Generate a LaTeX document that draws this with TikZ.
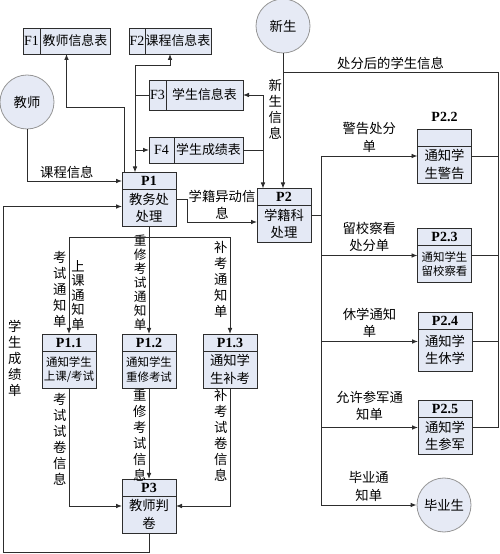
\documentclass[tikz,border=0pt]{standalone}
\usepackage{fontspec}
\setmainfont{Liberation Serif}
\newfontfamily\cjk{Noto Sans CJK SC}
\usetikzlibrary{arrows.meta,positioning,calc}

\definecolor{boxfill}{RGB}{228,233,245}
\definecolor{cirfill}{RGB}{230,234,245}
\definecolor{cirline}{RGB}{150,150,150}
\definecolor{ln}{RGB}{45,45,45}

\tikzset{
  wire/.style={draw=ln, line width=0.7pt},
  datafl/.style={wire, -{Latex[length=4.5pt,width=3.5pt]}},
  datafl2/.style={wire, {Latex[length=4.5pt,width=3.5pt]}-{Latex[length=4.5pt,width=3.5pt]}},
  entity/.style={circle, draw=cirline, fill=cirfill, line width=0.6pt, minimum size=40.5pt, inner sep=0pt, font=\cjk\fontsize{10}{12}\selectfont},
  fid/.style={draw=ln, fill=boxfill, line width=0.6pt, inner sep=0pt, outer sep=0pt, minimum height=19.5pt, font=\fontsize{10.5}{12}\selectfont},
  fname/.style={fid, font=\cjk\fontsize{9.7}{12}\selectfont},
  proc/.style={draw=ln, fill=boxfill, line width=0.6pt, inner sep=0pt, outer sep=0pt, minimum width=40.5pt, minimum height=40.5pt,
    path picture={\draw[ln, line width=0.6pt] ([yshift=-12.75pt]path picture bounding box.north west) -- ([yshift=-12.75pt]path picture bounding box.north east);}},
  pnum/.style={inner sep=0pt, font=\bfseries\fontsize{10.5}{12}\selectfont},
  ptext/.style={align=center, inner sep=0pt, font=\cjk\fontsize{10}{13}\selectfont},
  psmall/.style={ptext, font=\cjk\fontsize{8.6}{11}\selectfont},
  lab/.style={align=center, inner sep=1.5pt, font=\cjk\fontsize{10}{13}\selectfont},
  vlab/.style={align=center, inner sep=1.5pt, font=\cjk\fontsize{10}{12}\selectfont},
}

\begin{document}
\begin{tikzpicture}[x=0.75pt,y=0.75pt]
\useasboundingbox (0,0) rectangle (500,554);

%Shape: Circle (external entities)
\node[entity] (teacher) at (27,452) {教师};
\node[entity] (newstu) at (283,528) {新生};
\node[entity] (grad) at (444,49) {毕业生};

%Shape: data stores
\node[fid, minimum width=12.75pt] (f1id) at (31.5,513) {F1};
\node[fname, minimum width=52.5pt, right=0pt of f1id] (f1) {教师信息表};
\node[fid, minimum width=12pt] (f2id) at (137,513) {F2};
\node[fname, minimum width=49.5pt, right=0pt of f2id] (f2) {课程信息表};
\node[fid, minimum width=12.75pt, minimum height=22.5pt] (f3id) at (157.5,459) {F3};
\node[fname, minimum width=57.75pt, minimum height=22.5pt, right=0pt of f3id] (f3) {学生信息表};
\node[fid, minimum width=18.75pt] (f4id) at (161.5,404) {F4};
\node[fname, minimum width=51.75pt, right=0pt of f4id] (f4) {学生成绩表};

%Shape: processes
\node[proc] (p1) at (149,354.5) {};
\node[pnum] (p1n) at ([yshift=-6.375pt]p1.north) {P1};
\node[ptext] (p1t) at ([yshift=-6.375pt]p1.center) {教务处\\处理};

\node[proc] (p2) at (284,338.5) {};
\node[pnum] (p2n) at ([yshift=-6.375pt]p2.north) {P2};
\node[ptext] (p2t) at ([yshift=-6.375pt]p2.center) {学籍科\\处理};

\node[proc] (p11) at (69,193) {};
\node[pnum] (p11n) at ([yshift=-6.375pt]p11.north) {P1.1};
\node[psmall] (p11t) at ([yshift=-6.375pt]p11.center) {通知学生\\上课/考试};

\node[proc] (p12) at (149,193) {};
\node[pnum] (p12n) at ([yshift=-6.375pt]p12.north) {P1.2};
\node[psmall] (p12t) at ([yshift=-6.375pt]p12.center) {通知学生\\重修考试};

\node[proc] (p13) at (230,193) {};
\node[pnum] (p13n) at ([yshift=-6.375pt]p13.north) {P1.3};
\node[ptext] (p13t) at ([yshift=-6.375pt]p13.center) {通知学\\生补考};

\node[proc] (p3) at (149,48) {};
\node[pnum] (p3n) at ([yshift=-6.375pt]p3.north) {P3};
\node[ptext] (p3t) at ([yshift=-6.375pt]p3.center) {教师判\\卷};

\node[proc] (p22) at (444.5,398) {};
\node[pnum, above=5pt of p22] (p22n) {P2.2};
\node[ptext] (p22t) at ([yshift=-6.375pt]p22.center) {通知学\\生警告};

\node[proc] (p23) at (444.5,298.5) {};
\node[pnum] (p23n) at ([yshift=-6.375pt]p23.north) {P2.3};
\node[psmall] (p23t) at ([yshift=-6.375pt]p23.center) {通知学生\\留校察看};

\node[proc, minimum height=44.25pt] (p24) at (445,212.5) {};
\node[pnum] (p24n) at ([yshift=-6.375pt]p24.north) {P2.4};
\node[ptext] (p24t) at ([yshift=-6.375pt]p24.center) {通知学\\生休学};

\node[proc] (p25) at (445,126.5) {};
\node[pnum] (p25n) at ([yshift=-6.375pt]p25.north) {P2.5};
\node[ptext] (p25t) at ([yshift=-6.375pt]p25.center) {通知学\\生参军};

%Bend points
\coordinate (f1b) at ($(f1id.south west)!0.5!(f1.south east)$);
\coordinate (f2b) at ($(f2id.south west)!0.5!(f2.south east)$);
\coordinate (busL) at ([xshift=9.75pt]p1.north west);
\coordinate (busR) at ([xshift=4.5pt]p2.north west);
\coordinate (rtop) at (498,482);
\coordinate (lcorner) at (3,2);
\coordinate (split) at ([yshift=-8.25pt]p1.south);
\coordinate (trk) at ([xshift=7.5pt]p2.east);

%Flows round P1
\draw[datafl] (teacher) |- node[lab, pos=0.71, above] {课程信息} (p1.west |- p1n);
\draw[datafl] ([xshift=1.5pt]p1.north west) |- ([yshift=-39.75pt]f1b) -- (f1b);
\draw[datafl2] (f2b) -- ++(0,-11) -| (busL);
\draw[wire] (f3id.west) -- (f3id.west -| busL);
\draw[datafl] (f4id.west -| busL) -- (f4id.west);
\draw[datafl] (p3.south) |- (lcorner) |- node[vlab, pos=0.28, right=2pt] {学\\生\\成\\绩\\单} ([yshift=-5.25pt]p1.west);
\draw[datafl] (p1.east) -- ++(11,0) |- node[lab, pos=0.75, above] {学籍异动信\\息} ([yshift=-4.875pt]p2.west);

%Flows round P2
\draw[datafl2] (f3.east) -| (busR);
\draw[wire] (f4.east) -- (f4.east -| busR);
\draw[datafl] (newstu) -- node[vlab, pos=0.41, left=-1pt] {新\\生\\信\\息} (newstu |- p2.north);
\draw[wire] (p25.east) -| (rtop) -- node[lab, above] {处分后的学生信息} (rtop -| newstu);
\draw[wire] (p22.east) -- (p22.east -| rtop);
\draw[wire] (p23.east) -- (p23.east -| rtop);
\draw[wire] (p24.east) -- (p24.east -| rtop);

%P1 to P1.x
\draw[datafl] (p1) -- node[vlab, pos=0.52, left, font=\cjk\fontsize{9.5}{10.5}\selectfont] {重\\修\\考\\试\\通\\知\\单} (p12);
\draw[datafl] (split) -| node[vlab, pos=0.77, left] {考\\试\\通\\知\\单} node[vlab, pos=0.8, right, font=\cjk\fontsize{10}{10.8}\selectfont] {上\\课\\通\\知\\单} (p11);
\draw[datafl] (split) -| node[vlab, pos=0.715, left] {补\\考\\通\\知\\单} (p13);

%P1.x to P3
\draw[datafl] (p11) |- node[vlab, pos=0.216, left] {考\\试\\试\\卷\\信\\息} (p3);
\draw[datafl] (p12) -- node[vlab, pos=0.52, left] {重\\修\\考\\试\\信\\息} (p3);
\draw[datafl] (p13) |- node[vlab, pos=0.2, left] {补\\考\\试\\卷\\信\\息} (p3);

%P2 to P2.x
\draw[wire] (p2.east) -- (trk);
\draw[wire] (trk |- p22) -- (trk |- grad);
\draw[datafl] (trk |- p22) -- node[lab, above=1pt] {警告处分\\单} (p22);
\draw[datafl] (trk |- p23) -- node[lab, above=1pt] {留校察看\\处分单} (p23);
\draw[datafl] (trk |- p24) -- node[lab, above=1pt] {休学通知\\单} (p24);
\draw[datafl] (trk |- p25) -- node[lab, above=3pt] {允许参军通\\知单} (p25);
\draw[datafl] (trk |- grad) -- node[lab, above=1pt] {毕业通\\知单} (grad);
\end{tikzpicture}
\end{document}
